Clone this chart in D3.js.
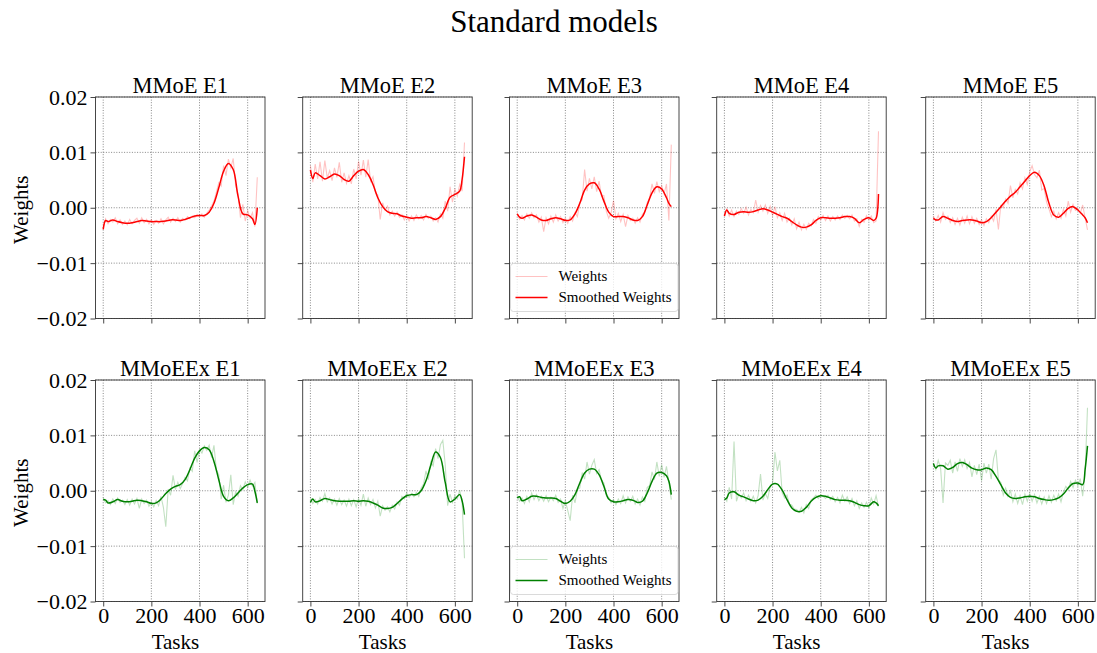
<!DOCTYPE html>
<html>
<head>
<meta charset="utf-8">
<script src="https://cdn.jsdelivr.net/npm/d3@7"></script>
<style>
  body { margin: 0; background: #fff; }
  svg { font-family: "Liberation Serif", "DejaVu Serif", serif; }
</style>
</head>
<body>
<svg id="fig" width="1097" height="653"></svg>
<script>
// ---- data (weights in units of 1e-3) ----
const figTitle = "Standard models"
const rowNames = ["MMoE", "MMoEEx"]
const expertNames = ["E1", "E2", "E3", "E4", "E5"]
const xTicks = [0, 200, 400, 600]
const yTicks = [-0.02, -0.01, 0.00, 0.01, 0.02]
const legendLabels = ["Weights", "Smoothed Weights"]

const rawTasks = [0, 10, 20, 30, 40, 50, 60, 70, 80, 90,
    100, 110, 120, 130, 140, 150, 160, 170, 180, 190,
    200, 210, 220, 230, 240, 250, 260, 270, 280, 290,
    300, 310, 320, 330, 340, 350, 360, 370, 380, 390,
    400, 410, 420, 430, 440, 450, 460, 470, 480, 490,
    500, 510, 520, 530, 540, 550, 560, 570, 580, 590,
    600, 610, 620, 630, 640]
const smoothTasks = [0, 10, 20, 40, 60, 80, 100, 120, 140, 160, 180, 200,
    220, 240, 260, 280, 300, 320, 340, 360, 380, 400,
    420, 440, 460, 480, 500, 520, 540, 560, 580, 600, 620, 630, 640]

const mmoeE1Raw = [-3.6, -2.0, -2.9, -2.1, -2.6, -1.8, -2.9, -2.2, -3.0, -2.4,
    -3.1, -2.1, -2.9, -2.3, -1.9, -2.8, -1.8, -2.7, -2.1, -2.9,
    -2.2, -3.0, -2.3, -2.8, -2.0, -2.9, -2.2, -1.7, -2.6, -1.9,
    -2.5, -1.8, -2.6, -1.9, -2.3, -1.6, -2.0, -1.5, -1.8, -1.2,
    -1.6, -1.1, -1.7, -1.0, -0.4, 0.3, 1.2, 2.8, 4.5, 3.9,
    7.6, 5.8, 8.8, 7.2, 8.9, 4.0, 2.5, -1.8, 0.6, -2.4,
    -0.5, -1.9, -0.9, -3.4, 5.5]
const mmoeE1Smooth = [-3.9, -2.3, -2.5, -2.2, -2.5, -2.7, -2.8, -2.7, -2.5, -2.3, -2.4, -2.5,
    -2.5, -2.5, -2.4, -2.2, -2.2, -2.3, -2.1, -1.8, -1.5, -1.4,
    -1.4, -0.8, 0.8, 3.6, 6.6, 8.0, 6.9, 2.1, -1.1, -1.3, -2.0, -3.0, 0.0]

const mmoeE2Raw = [7.6, 4.6, 7.9, 5.2, 8.3, 4.8, 8.5, 5.4, 6.7, 4.9,
    7.2, 5.5, 8.2, 4.6, 6.3, 4.4, 5.8, 4.3, 7.0, 5.2,
    8.4, 5.9, 8.6, 5.5, 8.7, 4.8, 5.6, 2.7, 2.3, -2.1,
    0.9, -0.4, 0.3, -1.3, -0.6, -1.5, -0.8, -1.7, -1.2, -2.2,
    -1.4, -2.4, -1.5, -2.3, -1.3, -2.0, -1.4, -2.2, -1.2, -1.9,
    -1.5, -2.4, -1.8, -2.6, -1.1, -1.9, 1.2, -0.6, 3.8, 1.0,
    3.4, 2.1, 4.2, 3.0, 11.8]
const mmoeE2Smooth = [6.8, 5.3, 6.3, 5.8, 5.2, 5.6, 6.1, 5.8, 5.1, 4.8, 5.8, 6.6,
    6.9, 6.0, 4.2, 1.8, 0.2, -0.7, -1.0, -1.1, -1.5, -1.7,
    -1.9, -1.8, -1.8, -1.6, -1.8, -2.1, -1.6, -0.1, 1.9, 2.4, 3.0, 5.1, 9.2]

const mmoeE3Raw = [-1.0, -2.1, -1.4, -2.2, -1.1, -1.9, -0.9, -1.8, -1.3, -2.6,
    -1.7, -4.3, -1.8, -2.9, -1.5, -2.6, -1.3, -2.4, -1.6, -2.7,
    -1.9, -2.8, -1.6, -2.4, -0.9, -1.6, 0.9, 1.5, 6.9, 3.0,
    5.3, 3.4, 5.6, 2.9, 4.8, 2.1, 2.2, -0.6, -1.9, -0.9,
    1.3, -2.0, -1.0, -2.5, -1.2, -3.4, -1.4, -2.3, -1.9, -2.8,
    -1.8, -2.6, -1.2, -0.8, 0.9, 1.8, 4.3, 2.6, 4.7, 2.9,
    4.0, 2.5, 4.3, -2.3, 11.4]
const mmoeE3Smooth = [-1.1, -1.7, -1.9, -1.5, -1.3, -1.7, -2.2, -2.3, -2.0, -1.8, -2.0, -2.3,
    -2.2, -1.1, 0.8, 3.2, 4.3, 4.5, 3.4, 1.2, -0.8, -1.6,
    -1.6, -1.6, -1.8, -2.2, -2.3, -1.6, 0.5, 2.7, 3.8, 3.4, 1.8, 0.8, 0.2]

const mmoeE4Raw = [-1.3, -0.2, -1.5, -0.4, -1.6, -0.6, -1.2, -0.2, -1.0, 0.1,
    -1.3, -0.3, -0.9, 1.4, -0.8, 0.4, -0.6, 0.5, -1.0, 0.3,
    -1.4, 0.2, -1.8, -0.9, -2.3, -1.0, -2.6, -1.9, -3.1, -2.0,
    -3.8, -2.6, -4.0, -3.0, -3.9, -2.8, -3.3, -2.1, -2.8, -1.6,
    -2.2, -1.4, -2.3, -1.5, -2.4, -1.6, -2.2, -1.5, -2.1, -1.3,
    -1.9, -1.4, -2.0, -1.3, -2.4, -2.0, -3.4, -2.1, -2.6, -1.4,
    -2.2, -1.5, -2.7, -2.4, 13.8]
const mmoeE4Smooth = [-1.5, -0.4, -1.0, -1.2, -0.8, -0.7, -0.8, -0.7, -0.4, -0.2, -0.4, -0.8,
    -1.2, -1.6, -1.9, -2.5, -3.1, -3.5, -3.5, -3.1, -2.3, -1.8,
    -1.8, -1.9, -1.9, -1.8, -1.6, -1.6, -1.9, -2.7, -2.1, -1.8, -2.3, -1.9, 2.5]

const mmoeE5Raw = [-1.5, -2.4, -1.4, -2.6, -0.9, -2.1, -1.5, -2.7, -1.8, -3.0,
    -1.9, -3.1, -1.7, -2.8, -1.5, -2.9, -1.6, -2.8, -1.9, -3.0,
    -2.2, -3.2, -2.0, -2.7, -1.5, -2.4, -0.3, -3.9, 0.4, 0.0,
    1.6, 0.8, 4.0, 1.8, 3.3, 2.5, 4.5, 3.4, 5.4, 4.2,
    6.5, 7.6, 6.0, 5.4, 6.8, 3.2, 3.5, 1.0, -0.2, -1.6,
    -0.6, -2.0, -0.9, -1.9, -0.3, -1.5, 1.2, -0.8, 0.6, -0.5,
    -0.2, -1.0, 0.5, -1.8, -4.0]
const mmoeE5Smooth = [-1.9, -2.2, -2.2, -1.6, -1.9, -2.3, -2.5, -2.3, -2.2, -2.2, -2.4, -2.7,
    -2.5, -1.8, -0.8, 0.2, 1.2, 2.1, 2.8, 3.8, 4.8, 5.8,
    6.4, 5.8, 3.9, 0.8, -1.3, -1.7, -1.0, -0.1, 0.2, -0.4, -1.3, -1.8, -2.7]

const mmoeexE1Raw = [-1.3, -2.2, -1.8, -2.5, -1.5, -2.3, -1.3, -2.1, -1.7, -2.5,
    -1.6, -2.6, -1.5, -2.4, -1.4, -3.2, -1.5, -2.3, -1.7, -2.8,
    -2.0, -2.9, -1.8, -2.7, -1.0, -3.0, -6.5, 0.3, -0.8, 2.8,
    0.2, 1.5, 0.4, 1.3, 2.4, 1.8, 4.1, 3.5, 7.2, 5.1,
    7.4, 6.8, 8.1, 7.3, 8.2, 6.0, 8.2, 3.8, 2.9, -1.5,
    1.0, -2.1, -0.8, 2.9, -2.5, -0.2, -1.0, 0.9, 0.2, 1.6,
    0.6, 1.9, 0.8, 1.5, -2.3]
const mmoeexE1Smooth = [-1.6, -1.7, -2.2, -2.0, -1.6, -1.9, -2.0, -1.9, -1.7, -1.8, -2.0, -2.3,
    -2.2, -1.5, -0.5, 0.3, 0.8, 1.1, 2.0, 3.8, 5.9, 7.2,
    7.8, 7.4, 5.3, 2.0, -1.0, -1.8, -1.3, -0.4, 0.5, 1.1, 1.2, -0.1, -2.2]

const mmoeexE2Raw = [-1.2, -2.3, -1.6, -2.4, -1.2, -1.9, -0.5, -2.0, -1.3, -2.4,
    -1.5, -2.6, -1.4, -2.5, -1.7, -2.8, -1.5, -2.7, -1.6, -2.9,
    -1.4, -2.6, -0.6, -2.8, -1.3, -2.5, -1.6, -3.1, -1.9, -4.6,
    -2.7, -3.5, -2.9, -3.8, -2.6, -3.3, -2.0, -2.6, -1.0, -1.5,
    -0.4, -1.2, -0.5, -1.1, -0.3, -1.0, 0.5, 1.2, 3.6, 2.0,
    5.2, 4.5, 7.6, 5.8, 8.3, 9.1, 4.7, -2.7, -0.6, -2.1,
    -0.9, -1.5, 0.1, -2.0, -12.2]
const mmoeexE2Smooth = [-2.1, -1.5, -2.0, -1.8, -1.4, -1.6, -1.8, -1.9, -1.9, -1.9, -1.8, -1.9,
    -1.8, -1.9, -2.2, -2.6, -3.1, -3.2, -3.0, -2.3, -1.5, -0.9,
    -0.7, -0.7, 0.0, 1.8, 4.6, 7.0, 6.0, 1.5, -2.0, -1.5, -0.7, -1.8, -4.3]

const mmoeexE3Raw = [-1.0, -1.9, -1.3, -2.3, -1.0, -2.0, -0.4, -1.6, -0.7, -1.8,
    -1.0, -1.9, -0.9, -2.0, -1.2, -1.8, -0.8, -2.1, -1.5, -3.2,
    -1.8, -3.6, -5.4, -0.8, -2.2, 0.2, 0.5, 3.3, 2.1, 5.2,
    3.0, 4.6, 5.6, 3.1, 3.8, 1.9, 1.4, -0.9, -1.2, -2.2,
    -1.6, -2.5, -1.5, -2.3, -0.9, -2.2, -1.1, -1.9, -1.0, -2.4,
    -1.5, -2.6, -1.1, -1.9, 0.6, 0.9, 3.4, 2.0, 5.2, 2.6,
    4.7, 2.4, 4.4, 1.5, -1.6]
const mmoeexE3Smooth = [-1.3, -1.1, -1.8, -1.5, -1.0, -1.0, -1.2, -1.3, -1.3, -1.4, -1.9, -2.3,
    -1.9, -0.7, 1.4, 3.2, 3.9, 3.9, 2.9, 0.8, -1.5, -2.0,
    -2.0, -1.8, -1.6, -1.7, -2.1, -1.9, -0.4, 1.7, 3.2, 3.3, 2.7, 1.7, -0.7]

const mmoeexE4Raw = [-1.2, -1.9, 0.6, -1.5, 8.9, -1.9, -0.6, -1.3, -0.4, -1.8,
    -0.8, -1.9, -1.0, -2.2, -0.9, 3.0, -1.7, -0.5, -1.4, 0.8,
    1.3, 7.0, 3.6, 5.5, -0.4, -1.3, -0.8, -2.4, -2.6, -3.3,
    -3.4, -3.9, -3.0, -4.0, -2.5, -3.2, -1.7, -1.3, -0.8, -1.4,
    -0.7, -1.0, -1.4, -0.8, -1.6, -1.0, -2.0, -1.2, -2.2, -0.8,
    -1.9, -1.1, -2.3, -1.4, -2.7, -1.8, -3.2, -2.2, -3.0, -2.1,
    -3.1, -1.3, -2.4, -0.9, -2.8]
const mmoeexE4Smooth = [-1.6, -1.3, -0.4, -0.2, -0.8, -1.1, -1.5, -1.8, -1.7, -1.0, 0.2, 1.2,
    1.2, 0.1, -1.6, -3.1, -3.7, -3.7, -3.0, -1.9, -1.2, -0.9,
    -1.0, -1.3, -1.6, -1.7, -1.7, -1.8, -2.1, -2.5, -2.7, -2.7, -2.0, -2.2, -2.7]

const mmoeexE5Raw = [4.9, 3.8, 5.5, 4.0, -2.2, 5.0, 4.6, 5.5, 3.2, 5.2,
    3.5, 5.8, 4.4, 5.6, 4.0, 5.1, 2.5, 4.6, 2.9, 4.8,
    1.8, 5.0, 3.2, 4.8, 2.1, 5.8, 7.4, 2.0, 1.5, -0.8,
    0.5, -1.0, 0.0, -2.0, -0.6, -2.3, -0.9, -2.5, -0.6, -1.9,
    -0.5, -1.9, -0.7, -2.2, -1.0, -2.4, -1.1, -2.3, -0.9, -2.1,
    -0.8, -1.8, -0.6, -2.0, -0.2, 0.8, 0.2, 1.7, 0.6, 1.9,
    0.9, 2.2, -1.0, 3.1, 15.0]
const mmoeexE5Smooth = [4.9, 4.1, 4.5, 4.5, 3.9, 4.2, 4.9, 5.1, 4.7, 4.1, 3.8, 3.8,
    4.1, 3.8, 2.6, 1.1, -0.4, -1.2, -1.4, -1.3, -1.1, -1.0,
    -1.1, -1.4, -1.6, -1.7, -1.6, -1.3, -0.6, 0.5, 1.3, 1.4, 1.1, 3.8, 8.1]

const rawSeries = [
    [mmoeE1Raw, mmoeE2Raw, mmoeE3Raw, mmoeE4Raw, mmoeE5Raw],
    [mmoeexE1Raw, mmoeexE2Raw, mmoeexE3Raw, mmoeexE4Raw, mmoeexE5Raw]]
const smoothSeries = [
    [mmoeE1Smooth, mmoeE2Smooth, mmoeE3Smooth, mmoeE4Smooth, mmoeE5Smooth],
    [mmoeexE1Smooth, mmoeexE2Smooth, mmoeexE3Smooth, mmoeexE4Smooth, mmoeexE5Smooth]]
const rowColors = ["#ff0000", "#008000"]

// ---- layout ----
const colLeft = [95.5, 302.7, 509.5, 716.7, 925.7]
const rowTop = [97, 380]
const panelW = 169.5, panelH = 221.5
const serif = "Liberation Serif, DejaVu Serif, serif"
const svg = d3.select("#fig")

svg.append("text")
    .attr("x", 554).attr("y", 32)
    .attr("text-anchor", "middle")
    .attr("font-size", 31)
    .text(figTitle)

const toPoints = (tasks, vals) => tasks.map((t, i) => ({t: t, v: vals[i] * 1e-3}))

rowNames.forEach((rowName, r) => {
    expertNames.forEach((exp, c) => {
        const g = svg.append("g").attr("transform", `translate(${colLeft[c]},${rowTop[r]})`)
        const x = d3.scaleLinear().domain([-32, 672]).range([0, panelW])
        const y = d3.scaleLinear().domain([-0.02, 0.02]).range([panelH, 0])
        const clipId = `clip-${r}-${c}`
        g.append("clipPath").attr("id", clipId)
            .append("rect").attr("width", panelW).attr("height", panelH)

        // grid
        const grid = g.append("g").attr("stroke", "#555").attr("stroke-width", 0.7)
            .attr("stroke-dasharray", "1,1.6")
        grid.selectAll(".gx").data(xTicks).join("line")
            .attr("x1", d => x(d)).attr("x2", d => x(d))
            .attr("y1", 0).attr("y2", panelH)
        grid.selectAll(".gy").data(yTicks).join("line")
            .attr("x1", 0).attr("x2", panelW)
            .attr("y1", d => y(d)).attr("y2", d => y(d))

        const line = d3.line().x(d => x(d.t)).y(d => y(d.v))
        const plot = g.append("g").attr("clip-path", `url(#${clipId})`)
        plot.append("path")
            .datum(toPoints(rawTasks, rawSeries[r][c]))
            .attr("fill", "none")
            .attr("stroke", rowColors[r])
            .attr("stroke-opacity", 0.24)
            .attr("stroke-width", 1.1)
            .attr("d", line)
        plot.append("path")
            .datum(toPoints(smoothTasks, smoothSeries[r][c]))
            .attr("fill", "none")
            .attr("stroke", rowColors[r])
            .attr("stroke-width", 1.5)
            .attr("d", line.curve(d3.curveCatmullRom))

        // axes
        const yAxis = d3.axisLeft(y).tickValues(yTicks).tickSize(5).tickPadding(3)
            .tickFormat(c === 0 ? d3.format(".2f") : "")
        const xAxis = d3.axisBottom(x).tickValues(xTicks).tickSize(5).tickPadding(3)
            .tickFormat(r === 1 ? d3.format("d") : "")
        const ya = g.append("g").call(yAxis)
        const xa = g.append("g").attr("transform", `translate(0,${panelH})`).call(xAxis)
        ;[ya, xa].forEach(a => {
            a.attr("font-family", serif)
            a.select(".domain").remove()
            a.selectAll(".tick line").attr("stroke", "#333").attr("stroke-width", 0.9)
            a.selectAll(".tick text").attr("fill", "#000").attr("font-size", 22)
        })
        xa.selectAll(".tick text").attr("dy", "0.6em")

        g.append("rect").attr("width", panelW).attr("height", panelH)
            .attr("fill", "none").attr("stroke", "#333").attr("stroke-width", 0.9)

        g.append("text")
            .attr("x", panelW / 2).attr("y", -4)
            .attr("text-anchor", "middle").attr("font-size", 22.5)
            .text(`${rowName} ${exp}`)

        if (c === 0) {
            g.append("text")
                .attr("transform", `translate(-68,${panelH / 2 + 2}) rotate(-90)`)
                .attr("text-anchor", "middle").attr("font-size", 21)
                .text("Weights")
        }
        if (r === 1) {
            g.append("text")
                .attr("x", x(300)).attr("y", panelH + 47)
                .attr("text-anchor", "middle").attr("font-size", 21)
                .text("Tasks")
        }

        // legend
        if (c === 2) {
            const lg = g.append("g").attr("transform", `translate(1,${panelH - 55})`)
            lg.append("rect").attr("width", panelW - 2).attr("height", 48)
                .attr("rx", 3).attr("fill", "#fff").attr("fill-opacity", 0.8)
                .attr("stroke", "#d0d0d0").attr("stroke-width", 0.8)
            legendLabels.forEach((lab, k) => {
                const yy = 13 + k * 21
                lg.append("line").attr("x1", 5).attr("x2", 37).attr("y1", yy).attr("y2", yy)
                    .attr("stroke", rowColors[r])
                    .attr("stroke-opacity", k === 0 ? 0.24 : 1)
                    .attr("stroke-width", k === 0 ? 1.1 : 1.5)
                lg.append("text").attr("x", 48).attr("y", yy).attr("dy", "0.33em")
                    .attr("font-size", 15).text(lab)
            })
        }
    })
})
</script>
</body>
</html>
